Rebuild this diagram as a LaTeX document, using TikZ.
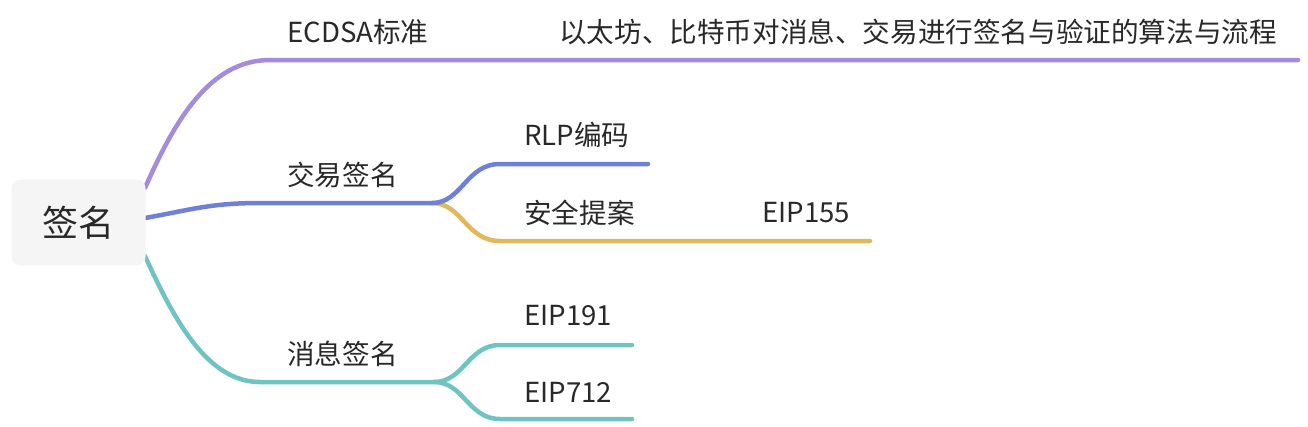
\documentclass[tikz,border=0pt]{standalone}
\usepackage{fontspec}
\setmainfont{Noto Sans CJK SC}
\begin{document}
\begin{tikzpicture}[x=1pt,y=-1pt,
  txt/.style={anchor=west,inner sep=0pt,text=txtc,font=\fontsize{27.6}{32}\selectfont},
  branch/.style={line width=4.5pt,line cap=round},
]
\definecolor{txtc}{RGB}{40,40,40}
\definecolor{cpur}{RGB}{164,139,221}
\definecolor{cblu}{RGB}{111,128,216}
\definecolor{cyel}{RGB}{225,185,92}
\definecolor{ctea}{RGB}{110,196,192}
\definecolor{cbox}{RGB}{245,245,245}
\useasboundingbox (0,0) rectangle (1308,426);

% coordinates
\coordinate (pA) at (270,60);
\coordinate (pAend) at (1298,60);
\coordinate (bA) at (260,203);
\coordinate (bSplit) at (432,203);
\coordinate (bUp) at (500,164);
\coordinate (bUpEnd) at (648,164);
\coordinate (yDn) at (500,241);
\coordinate (yDnEnd) at (870,241);
\coordinate (tA) at (260,382);
\coordinate (tSplit) at (434,382);
\coordinate (tUp) at (500,345);
\coordinate (tUpEnd) at (632,345);
\coordinate (tDn) at (500,419);
\coordinate (tDnEnd) at (632,419);

% connectors
\draw[branch,draw=cpur] (145,188) .. controls (175,120) and (210,60) .. (pA) -- (pAend);
\draw[branch,draw=cyel] (bSplit) .. controls (462,203) and (466,241) .. (yDn) -- (yDnEnd);
\draw[branch,draw=cblu] (145,218) .. controls (190,210) and (210,203) .. (bA) -- (bSplit)
   .. controls (462,203) and (466,164) .. (bUp) -- (bUpEnd);
\draw[branch,draw=ctea] (145,256) .. controls (175,322) and (208,382) .. (tA) -- (tSplit)
   .. controls (464,382) and (468,345) .. (tUp) -- (tUpEnd);
\draw[branch,draw=ctea] (tSplit) .. controls (464,382) and (468,419) .. (tDn) -- (tDnEnd);

% root
\node[fill=cbox,rounded corners=9pt,minimum width=134pt,minimum height=86pt,inner sep=0pt,
  text=txtc,font=\fontsize{36}{40}\selectfont] (root) at (78.5,222.5) {签名};

% labels
\node[txt] (ecdsa) at (287,32) {ECDSA标准};
\node[txt] (desc) at (559,32) {以太坊、比特币对消息、交易进行签名与验证的算法与流程};
\node[txt] (tx) at (287,175) {交易签名};
\node[txt] (rlp) at (524,135) {RLP编码};
\node[txt] (sec) at (524,213) {安全提案};
\node[txt] (eip155) at (762,213) {EIP155};
\node[txt] (msg) at (287,354) {消息签名};
\node[txt] (eip191) at (524,316) {EIP191};
\node[txt] (eip712) at (524,392) {EIP712};
\end{tikzpicture}
\end{document}
